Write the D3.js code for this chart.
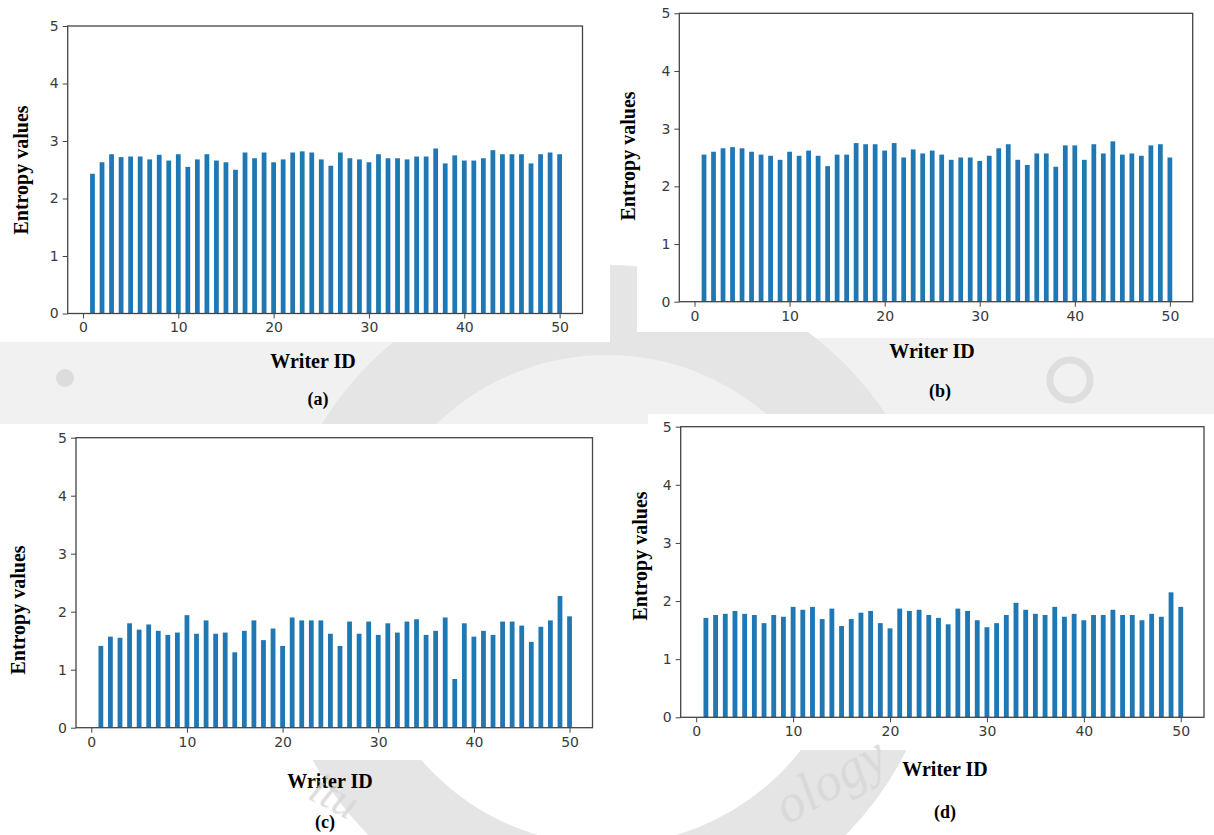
<!DOCTYPE html>
<html>
<head>
<meta charset="utf-8">
<script src="https://cdnjs.cloudflare.com/ajax/libs/d3/7.8.5/d3.min.js"></script>
<style>
  html, body { margin: 0; padding: 0; background: #ffffff; }
  svg { display: block; }
</style>
</head>
<body>
<svg id="fig" width="1214" height="835"></svg>
<script>
// Writer identifiers (x categories)
const writerIds = d3.range(1, 51);

// Entropy values per writer, one array per panel
const entropyA = [2.43, 2.63, 2.77, 2.72, 2.73, 2.73, 2.68, 2.76, 2.66, 2.77,
                  2.55, 2.68, 2.77, 2.66, 2.63, 2.50, 2.80, 2.70, 2.80, 2.63,
                  2.68, 2.80, 2.82, 2.80, 2.68, 2.57, 2.80, 2.70, 2.68, 2.63,
                  2.77, 2.70, 2.70, 2.68, 2.73, 2.73, 2.87, 2.61, 2.75, 2.66,
                  2.66, 2.70, 2.84, 2.77, 2.77, 2.77, 2.61, 2.77, 2.80, 2.77];
const entropyB = [2.55, 2.60, 2.66, 2.68, 2.66, 2.60, 2.55, 2.53, 2.46, 2.60,
                  2.53, 2.62, 2.53, 2.35, 2.55, 2.55, 2.75, 2.73, 2.73, 2.62,
                  2.75, 2.50, 2.64, 2.57, 2.62, 2.55, 2.46, 2.50, 2.50, 2.44,
                  2.53, 2.66, 2.73, 2.46, 2.37, 2.57, 2.57, 2.34, 2.71, 2.71,
                  2.46, 2.73, 2.57, 2.78, 2.55, 2.57, 2.53, 2.71, 2.73, 2.50];
const entropyC = [1.41, 1.57, 1.55, 1.80, 1.69, 1.78, 1.67, 1.60, 1.64, 1.94,
                  1.62, 1.85, 1.62, 1.64, 1.30, 1.67, 1.85, 1.51, 1.71, 1.41,
                  1.90, 1.85, 1.85, 1.85, 1.62, 1.41, 1.83, 1.62, 1.83, 1.60,
                  1.80, 1.64, 1.83, 1.87, 1.60, 1.67, 1.90, 0.84, 1.80, 1.57,
                  1.67, 1.60, 1.83, 1.83, 1.76, 1.48, 1.74, 1.85, 2.27, 1.92];
const entropyD = [1.71, 1.76, 1.78, 1.83, 1.78, 1.76, 1.62, 1.76, 1.73, 1.90,
                  1.85, 1.90, 1.69, 1.87, 1.57, 1.69, 1.80, 1.83, 1.62, 1.53,
                  1.87, 1.83, 1.85, 1.76, 1.71, 1.60, 1.87, 1.83, 1.67, 1.55,
                  1.62, 1.76, 1.97, 1.85, 1.78, 1.76, 1.90, 1.73, 1.78, 1.67,
                  1.76, 1.76, 1.85, 1.76, 1.76, 1.67, 1.78, 1.73, 2.15, 1.90];

// Axis tick labels
const yTicks = [0, 1, 2, 3, 4, 5];
const xTicks = [0, 10, 20, 30, 40, 50];
const panelLabels = ["(a)", "(b)", "(c)", "(d)"];
const yTitle = "Entropy values";
const xTitle = "Writer ID";

const svg = d3.select("#fig");
const BAR_COLOR = "#1f77b4";
const SPINE = "#444";
const TICK_FONT = "'DejaVu Sans', sans-serif";
const TITLE_FONT = "'Liberation Serif', 'Times New Roman', serif";

// ---- faint background emblem ----
const bg = svg.append("g").attr("class", "emblem");
bg.append("rect").attr("x", 0).attr("y", 0).attr("width", 1214).attr("height", 835).attr("fill", "#ffffff");
bg.append("rect").attr("x", 0).attr("y", 338).attr("width", 1214).attr("height", 86).attr("fill", "#f1f1f1");
bg.append("circle").attr("cx", 607).attr("cy", 600).attr("r", 290)
  .attr("fill", "none").attr("stroke", "#e5e5e5").attr("stroke-width", 90);
bg.append("circle").attr("cx", 65).attr("cy", 378).attr("r", 9).attr("fill", "#dcdcdc");
bg.append("circle").attr("cx", 1070).attr("cy", 380).attr("r", 20).attr("fill", "none")
  .attr("stroke", "#dedede").attr("stroke-width", 7);

// ---- panel layout (plot-area boxes in pixels) ----
const panels = [
  { data: entropyA, sheet: [0, 18, 610, 324],   box: { l: 67.7, r: 582.5, t: 26,    b: 313.5 },
    yTitle: [21, 170],  xTitle: [313, 361], cap: [318, 399] },
  { data: entropyB, sheet: [637, 0, 577, 332],  box: { l: 679.3, r: 1192.7, t: 13.3, b: 301.7 },
    yTitle: [628, 156], xTitle: [932, 351], cap: [940, 391] },
  { data: entropyC, sheet: [0, 424, 607, 336],  box: { l: 76,    r: 592.5, t: 437.7, b: 727.7 },
    yTitle: [18, 610],  xTitle: [330, 781], cap: [325, 822] },
  { data: entropyD, sheet: [648, 414, 566, 336], box: { l: 680.7, r: 1204,  t: 426.7, b: 717.3 },
    yTitle: [640, 556], xTitle: [945, 769], cap: [945, 812] }
];

panels.forEach((p, i) => {
  const g = svg.append("g").attr("class", "panel");
  // white sheet behind each chart
  g.append("rect")
    .attr("x", p.sheet[0]).attr("y", p.sheet[1])
    .attr("width", p.sheet[2]).attr("height", p.sheet[3])
    .attr("fill", "#ffffff");

  const { l, r, t, b } = p.box;
  const x = d3.scaleLinear().domain([-1.6, 52.4]).range([l, r]);
  const y = d3.scaleLinear().domain([0, 5]).range([b, t]);
  const barW = x(0.5) - x(0);

  g.selectAll("rect.bar")
    .data(writerIds.map((id, k) => ({ id, v: p.data[k] })))
    .join("rect")
    .attr("class", "bar")
    .attr("x", d => x(d.id) - barW / 2)
    .attr("width", barW)
    .attr("y", d => y(d.v))
    .attr("height", d => y(0) - y(d.v))
    .attr("fill", BAR_COLOR);

  // axes
  const xAxis = d3.axisBottom(x).tickValues(xTicks).tickFormat(d3.format("d")).tickSize(5).tickPadding(4);
  const yAxis = d3.axisLeft(y).tickValues(yTicks).tickFormat(d3.format("d")).tickSize(5).tickPadding(4);

  const gx = g.append("g").attr("transform", `translate(0,${b})`).call(xAxis);
  const gy = g.append("g").attr("transform", `translate(${l},0)`).call(yAxis);
  [gx, gy].forEach(ax => {
    ax.select(".domain").remove();
    ax.selectAll(".tick line").attr("stroke", SPINE).attr("stroke-width", 1);
    ax.selectAll(".tick text")
      .attr("fill", "#3a3a3a").style("font-family", TICK_FONT).style("font-size", "14px");
  });

  // frame (all four spines)
  g.append("rect")
    .attr("x", l).attr("y", t).attr("width", r - l).attr("height", b - t)
    .attr("fill", "none").attr("stroke", SPINE).attr("stroke-width", 1.3);

  // titles
  g.append("text")
    .attr("transform", `translate(${p.yTitle[0]},${p.yTitle[1]}) rotate(-90)`)
    .attr("text-anchor", "middle").attr("dominant-baseline", "central")
    .style("font-family", TITLE_FONT).style("font-weight", "bold").style("font-size", "20px")
    .attr("fill", "#000").text(yTitle);
  g.append("text")
    .attr("x", p.xTitle[0]).attr("y", p.xTitle[1])
    .attr("text-anchor", "middle").attr("dominant-baseline", "central")
    .style("font-family", TITLE_FONT).style("font-weight", "bold").style("font-size", "20px")
    .attr("fill", "#000").text(xTitle);
  g.append("text")
    .attr("x", p.cap[0]).attr("y", p.cap[1])
    .attr("text-anchor", "middle").attr("dominant-baseline", "central")
    .style("font-family", TITLE_FONT).style("font-weight", "bold").style("font-size", "18px")
    .attr("fill", "#000").text(panelLabels[i]);
});

// emblem lettering over the lower margin
const fg = svg.append("g").attr("class", "emblem-text")
  .style("font-family", TITLE_FONT).style("font-style", "italic")
  .attr("fill", "#d6d6d6").attr("opacity", 0.8);
fg.append("text").attr("transform", "translate(335,795) rotate(28)")
  .attr("text-anchor", "middle").attr("dominant-baseline", "central")
  .style("font-size", "46px").text("itu");
fg.append("text").attr("transform", "translate(830,780) rotate(-30)")
  .attr("text-anchor", "middle").attr("dominant-baseline", "central")
  .style("font-size", "54px").text("ology");
</script>
</body>
</html>
